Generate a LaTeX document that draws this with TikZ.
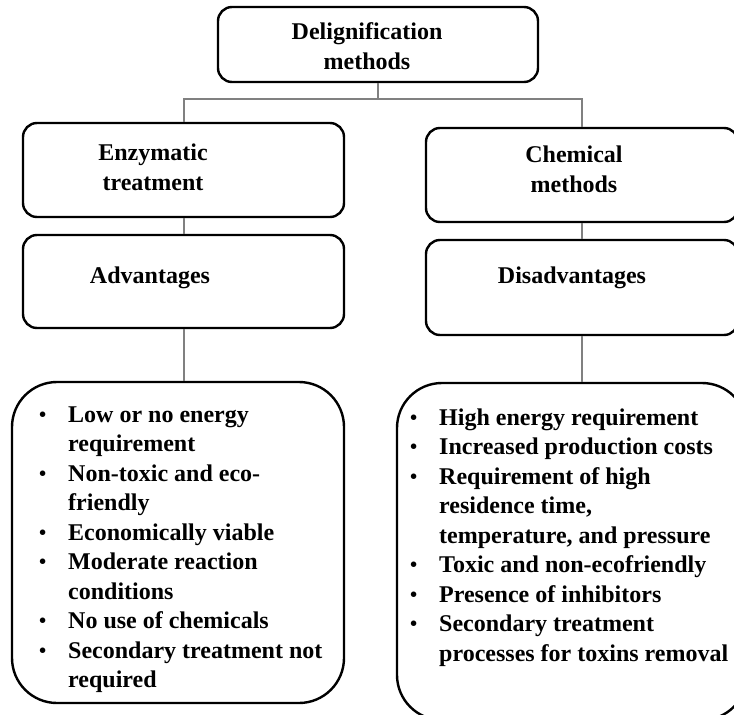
\documentclass[tikz,border=0pt]{standalone}
\usepackage{fontspec}
\setmainfont{Liberation Serif}
\usetikzlibrary{positioning}

% one bullet line of a list, hanging indent for the wrapped lines
\newcommand{\bitem}{\par\noindent\hangindent=29pt\hangafter=1\makebox[29pt][l]{\raisebox{0.8pt}{\scalebox{0.85}{\textbullet}}}}
\newcommand{\bullets}[1]{\parbox[t]{330pt}{\raggedright\fontsize{24}{29.5}\selectfont\bfseries #1}}

\begin{document}
\begin{tikzpicture}[x=1pt, y=1pt,
			box/.style={draw, line width=2.4pt, rounded corners=14pt},
			listbox/.style={draw, line width=2.4pt, rounded corners=45pt},
			head/.style={align=center, inner sep=0pt, font=\fontsize{24}{30}\selectfont\bfseries},
			list/.style={inner sep=0pt, anchor=base west},
			link/.style={draw=gray, line width=2pt}
		]
		\useasboundingbox (0,0) rectangle (734,-715);

		\node[box, minimum width=320pt, minimum height=75pt] (top) at (378,-44.5) {};
		\node[head] (toplbl) at (367,-46) {Delignification\\methods};

		\node[box, minimum width=321pt, minimum height=94pt] (enz) at (183.5,-170) {};
		\node[head] (enzlbl) at (153,-167) {Enzymatic\\treatment};
		\node[box, minimum width=321pt, minimum height=93pt] (adv) at (183.5,-281.5) {};
		\node[head] (advlbl) at (150,-278) {Advantages};

		\node[box, minimum width=312pt, minimum height=94pt] (chem) at (582,-175) {};
		\node[head] (chemlbl) at (574,-169) {Chemical\\methods};
		\node[box, minimum width=312pt, minimum height=95pt] (disadv) at (582,-287.5) {};
		\node[head] (disadvlbl) at (572,-278) {Disadvantages};

		\node[listbox, minimum width=332pt, minimum height=321pt] (pros) at (178,-542.5) {};
		\node[list] (proslist) at (39,-422) {\bullets{%
			\bitem Low or no energy\newline requirement
			\bitem Non-toxic and eco-\newline friendly
			\bitem Economically viable
			\bitem Moderate reaction\newline conditions
			\bitem No use of chemicals
			\bitem Secondary treatment not\newline required}};

		\node[listbox, minimum width=350pt, minimum height=337pt] (cons) at (572,-551.5) {};
		\node[list] (conslist) at (410,-425) {\bullets{%
			\bitem High energy requirement
			\bitem Increased production costs
			\bitem Requirement of high\newline residence time,\newline temperature, and pressure
			\bitem Toxic and non-ecofriendly
			\bitem Presence of inhibitors
			\bitem Secondary treatment\newline processes for toxins removal}};

		\draw[link] (top.south) -- ++(0,-16) -| (enz.north);
		\draw[link] (top.south) -- ++(0,-16) -| (chem.north);
		\draw[link] (enz.south) -- (adv.north);
		\draw[link] (chem.south) -- (disadv.north);
		\draw[link] (adv.south) -- (adv.south |- pros.north);
		\draw[link] (disadv.south) -- (disadv.south |- cons.north);
	\end{tikzpicture}
\end{document}
